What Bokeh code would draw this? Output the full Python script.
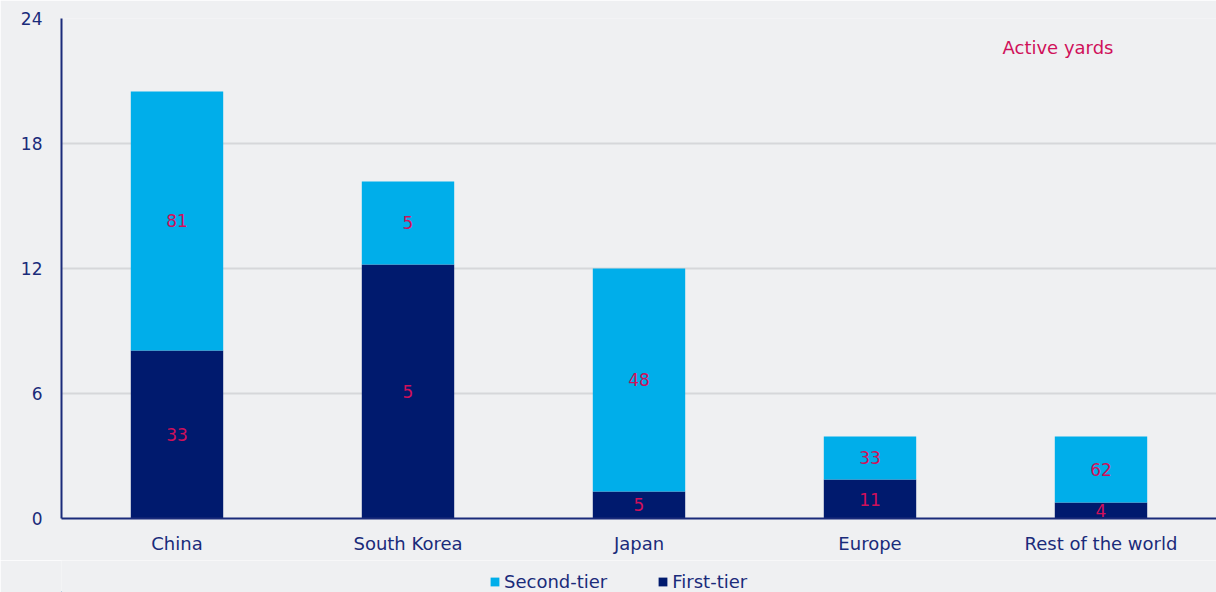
from bokeh.plotting import figure
from bokeh.layouts import column
from bokeh.models import (ColumnDataSource, FactorRange, FixedTicker, Legend, LegendItem,
                          LabelSet, Label, Range1d)
from bokeh.core.properties import value
from bokeh.embed import file_html
from bokeh.resources import INLINE

regions = ["China", "South Korea", "Japan", "Europe", "Rest of the world"]
first_tier = [8.07, 12.19, 1.30, 1.87, 0.77]
second_tier = [12.43, 3.99, 10.70, 2.07, 3.17]
first_yards = ["33", "5", "5", "11", "4"]
second_yards = ["81", "5", "48", "33", "62"]
y_ticks = [0, 6, 12, 18, 24]

FONT = "DejaVu Sans"
NAVY_TXT = "#1a2b7a"
BG = "#eff0f2"
LBL = "#d0105a"
C_FIRST = "#001a6e"
C_SECOND = "#00aeea"

first_mid = [f / 2 for f in first_tier]
second_mid = [f + s / 2 for f, s in zip(first_tier, second_tier)]

src = ColumnDataSource(dict(region=regions, first=first_tier, second=second_tier,
                            fmid=first_mid, smid=second_mid,
                            fy=first_yards, sy=second_yards))

p = figure(x_range=FactorRange(*regions, range_padding=0), y_range=(0, 24),
           width=1216, height=560, output_backend="svg", toolbar_location=None,
           background_fill_color=BG, border_fill_color=BG,
           min_border_left=61, min_border_right=0, min_border_top=18, min_border_bottom=42)
p.outline_line_color = None

r = p.vbar_stack(["first", "second"], x="region", width=0.4, source=src,
                 color=[C_FIRST, C_SECOND], line_color=None)

for ycol, tcol in (("fmid", "fy"), ("smid", "sy")):
    p.add_layout(LabelSet(x="region", y=ycol, text=tcol, source=src, text_align="center",
                          text_baseline="middle", text_color=LBL, text_font=value(FONT),
                          text_font_size="17px"))

p.add_layout(Label(x=941, y=471, x_units="screen", y_units="screen", text="Active yards",
                   text_color=LBL, text_font=FONT, text_font_size="18px",
                   text_baseline="middle"))

p.yaxis.ticker = FixedTicker(ticks=y_ticks)
for ax in (p.xaxis[0], p.yaxis[0]):
    ax.axis_line_color = NAVY_TXT
    ax.axis_line_width = 2
    ax.major_tick_line_color = None
    ax.minor_tick_line_color = None
    ax.major_label_text_color = NAVY_TXT
    ax.major_label_text_font = FONT
p.yaxis.major_label_text_font_size = "17px"
p.xaxis.major_label_text_font_size = "18px"
p.yaxis.major_label_standoff = 13
p.xaxis.major_label_standoff = 8
p.xgrid.grid_line_color = None
p.ygrid.grid_line_color = "#d6d7da"
p.ygrid.grid_line_width = 2

# legend strip below the chart
lg = figure(x_range=Range1d(0, 1216), y_range=Range1d(0, 32), width=1216, height=32,
            output_backend="svg", toolbar_location=None, x_axis_type=None, y_axis_type=None,
            background_fill_color=BG, border_fill_color=BG,
            min_border_left=0, min_border_right=0, min_border_top=0, min_border_bottom=0)
lg.outline_line_color = None
lg.grid.grid_line_color = None
d_second = lg.vbar(x=[-100], top=[1], width=1, color=C_SECOND, line_color=None)
d_first = lg.vbar(x=[-100], top=[1], width=1, color=C_FIRST, line_color=None)
legend = Legend(items=[LegendItem(label="Second-tier", renderers=[d_second]),
                       LegendItem(label="First-tier", renderers=[d_first])],
                orientation="horizontal", location=(428, 0),
                background_fill_alpha=0, border_line_color=None,
                label_text_font=FONT, label_text_font_size="18px", label_text_color=NAVY_TXT,
                glyph_width=11, glyph_height=11, label_standoff=4, spacing=50,
                padding=0, margin=0)
lg.add_layout(legend, "center")

layout = column(p, lg, spacing=0)
open("out.html", "w").write(file_html(layout, INLINE))
